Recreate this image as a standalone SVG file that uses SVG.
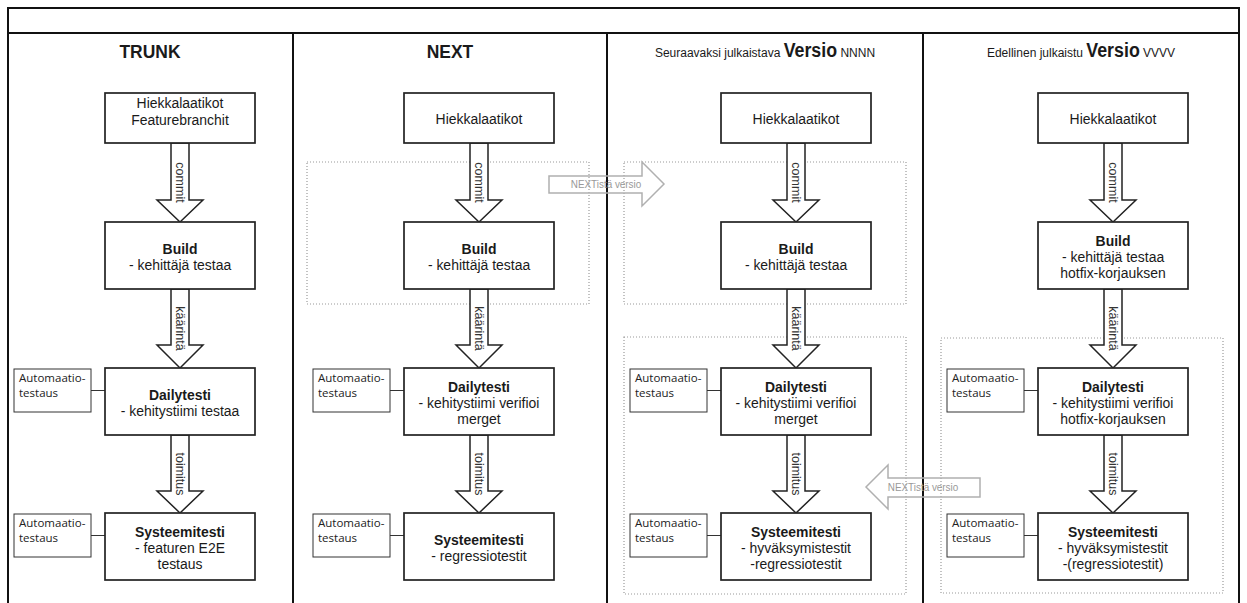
<svg xmlns="http://www.w3.org/2000/svg" width="1247" height="603" viewBox="0 0 1247 603">
<style>
.frame{fill:none;stroke:#111;stroke-width:2}
.box{fill:#fff;stroke:#222;stroke-width:1.7}
.abox{fill:#fff;stroke:#333;stroke-width:1}
.dot{fill:none;stroke:#9a9a9a;stroke-width:1.2;stroke-dasharray:1 2}
.arr{fill:#fff;stroke:#222;stroke-width:1.5}
.garr{fill:none;stroke:#b0b0b0;stroke-width:1.5}
.ln{stroke:#333;stroke-width:1}
text{font-family:"Liberation Sans",Arial,sans-serif;fill:#1a1a1a}
.t,.h,.hs,.glab{transform-box:fill-box;transform-origin:center}
.t{font-size:15.5px;text-anchor:middle;transform:scaleX(0.9)}
.b{font-weight:bold}
.h{font-size:19px;font-weight:bold;text-anchor:middle;transform:scaleX(0.92)}
.hs{font-size:13.5px;text-anchor:middle;transform:scaleX(0.89)}
.hv{font-size:20px;font-weight:bold}
.lab{font-size:12.5px;text-anchor:middle;dominant-baseline:central;fill:#333}
.glab{font-size:11px;text-anchor:middle;dominant-baseline:central;fill:#999;transform:scaleX(0.9)}
.at{font-family:"Open Sans","Liberation Sans",sans-serif;font-size:11.5px;fill:#222}
</style>
<rect width="1247" height="603" fill="#fff"/>
<g id="frame">
<rect class="frame" x="8" y="8" width="1231" height="600"/>
<line class="frame" x1="8" y1="33" x2="1239" y2="33"/>
<line class="frame" x1="293" y1="33" x2="293" y2="608"/>
<line class="frame" x1="607" y1="33" x2="607" y2="608"/>
<line class="frame" x1="923" y1="33" x2="923" y2="608"/>
</g>
<g id="titles">
<text class="h" x="150" y="58">TRUNK</text>
<text class="h" x="450" y="58">NEXT</text>
<text class="hs" x="765" y="57">Seuraavaksi julkaistava <tspan class="hv">Versio</tspan> NNNN</text>
<text class="hs" x="1081" y="57">Edellinen julkaistu <tspan class="hv">Versio</tspan> VVVV</text>
</g>
<g id="groups">
<rect id="grp-next-build" class="dot" x="307" y="162" width="282" height="142"/>
<rect id="grp-versio-build" class="dot" x="624" y="162" width="282" height="142"/>
<rect id="grp-versio-test" class="dot" x="624" y="337" width="282" height="257"/>
<rect id="grp-prev-test" class="dot" x="941" y="338" width="282" height="255"/>
</g>
<g id="connectors">
<path class="arr" d="M171,143 L189,143 L189,200 L203,200 L180,222 L157,200 L171,200 Z"/>
<path class="arr" d="M171,289 L189,289 L189,345 L203,345 L180,368 L157,345 L171,345 Z"/>
<path class="arr" d="M171,435 L189,435 L189,491 L203,491 L180,513 L157,491 L171,491 Z"/>
<path class="arr" d="M470,143 L488,143 L488,200 L502,200 L479,222 L456,200 L470,200 Z"/>
<path class="arr" d="M470,289 L488,289 L488,345 L502,345 L479,368 L456,345 L470,345 Z"/>
<path class="arr" d="M470,435 L488,435 L488,491 L502,491 L479,513 L456,491 L470,491 Z"/>
<path class="arr" d="M787,143 L805,143 L805,200 L819,200 L796,222 L773,200 L787,200 Z"/>
<path class="arr" d="M787,289 L805,289 L805,345 L819,345 L796,368 L773,345 L787,345 Z"/>
<path class="arr" d="M787,435 L805,435 L805,491 L819,491 L796,513 L773,491 L787,491 Z"/>
<path class="arr" d="M1104,143 L1122,143 L1122,200 L1136,200 L1113,222 L1090,200 L1104,200 Z"/>
<path class="arr" d="M1104,289 L1122,289 L1122,345 L1136,345 L1113,368 L1090,345 L1104,345 Z"/>
<path class="arr" d="M1104,435 L1122,435 L1122,491 L1136,491 L1113,513 L1090,491 L1104,491 Z"/>
<text class="lab" x="180" y="182.5" transform="rotate(90 180 182.5)">commit</text>
<text class="lab" x="180" y="328.5" transform="rotate(90 180 328.5)">käärintä</text>
<text class="lab" x="180" y="474" transform="rotate(90 180 474)">toimitus</text>
<text class="lab" x="479" y="182.5" transform="rotate(90 479 182.5)">commit</text>
<text class="lab" x="479" y="328.5" transform="rotate(90 479 328.5)">käärintä</text>
<text class="lab" x="479" y="474" transform="rotate(90 479 474)">toimitus</text>
<text class="lab" x="796" y="182.5" transform="rotate(90 796 182.5)">commit</text>
<text class="lab" x="796" y="328.5" transform="rotate(90 796 328.5)">käärintä</text>
<text class="lab" x="796" y="474" transform="rotate(90 796 474)">toimitus</text>
<text class="lab" x="1113" y="182.5" transform="rotate(90 1113 182.5)">commit</text>
<text class="lab" x="1113" y="328.5" transform="rotate(90 1113 328.5)">käärintä</text>
<text class="lab" x="1113" y="474" transform="rotate(90 1113 474)">toimitus</text>
<path class="garr" d="M549,176 L642,176 L642,162 L664,184 L642,206 L642,193 L549,193 Z"/>
<text class="glab" x="606" y="184.5">NEXTistä versio</text>
<path class="garr" d="M980,478 L888,478 L888,465 L866,487 L888,509 L888,497 L980,497 Z"/>
<text class="glab" x="923" y="487.5">NEXTistä versio</text>
<line class="ln" x1="91" y1="390.5" x2="105" y2="390.5"/>
<line class="ln" x1="91" y1="535.5" x2="105" y2="535.5"/>
<line class="ln" x1="390" y1="390.5" x2="404" y2="390.5"/>
<line class="ln" x1="390" y1="535.5" x2="404" y2="535.5"/>
<line class="ln" x1="707" y1="390.5" x2="721" y2="390.5"/>
<line class="ln" x1="707" y1="535.5" x2="721" y2="535.5"/>
<line class="ln" x1="1024" y1="390.5" x2="1038" y2="390.5"/>
<line class="ln" x1="1024" y1="535.5" x2="1038" y2="535.5"/>
</g>
<g id="trunk-sandbox"><rect class="box" x="105" y="93" width="150" height="50"/><text class="t" x="180" y="108">Hiekkalaatikot</text><text class="t" x="180" y="125">Featurebranchit</text></g>
<g id="trunk-build"><rect class="box" x="105" y="222" width="150" height="67"/><text class="t b" x="180" y="254">Build</text><text class="t" x="180" y="270">- kehittäjä testaa</text></g>
<g id="trunk-daily"><rect class="box" x="105" y="368" width="150" height="67"/><text class="t b" x="180" y="400">Dailytesti</text><text class="t" x="180" y="416">- kehitystiimi testaa</text></g>
<g id="trunk-system"><rect class="box" x="105" y="513" width="150" height="67"/><text class="t b" x="180" y="537">Systeemitesti</text><text class="t" x="180" y="553">- featuren E2E</text><text class="t" x="180" y="569">testaus</text></g>
<g id="trunk-auto1"><rect class="abox" x="14" y="369" width="77" height="43"/><text class="at" x="19" y="382">Automaatio-</text><text class="at" x="19" y="397">testaus</text></g>
<g id="trunk-auto2"><rect class="abox" x="14" y="514" width="77" height="43"/><text class="at" x="19" y="527">Automaatio-</text><text class="at" x="19" y="542">testaus</text></g>

<g id="next-sandbox"><rect class="box" x="404" y="93" width="150" height="50"/><text class="t" x="479" y="124">Hiekkalaatikot</text></g>
<g id="next-build"><rect class="box" x="404" y="222" width="150" height="67"/><text class="t b" x="479" y="254">Build</text><text class="t" x="479" y="270">- kehittäjä testaa</text></g>
<g id="next-daily"><rect class="box" x="404" y="368" width="150" height="67"/><text class="t b" x="479" y="392">Dailytesti</text><text class="t" x="479" y="408">- kehitystiimi verifioi</text><text class="t" x="479" y="424">merget</text></g>
<g id="next-system"><rect class="box" x="404" y="513" width="150" height="67"/><text class="t b" x="479" y="545">Systeemitesti</text><text class="t" x="479" y="561">- regressiotestit</text></g>
<g id="next-auto1"><rect class="abox" x="313" y="369" width="77" height="43"/><text class="at" x="318" y="382">Automaatio-</text><text class="at" x="318" y="397">testaus</text></g>
<g id="next-auto2"><rect class="abox" x="313" y="514" width="77" height="43"/><text class="at" x="318" y="527">Automaatio-</text><text class="at" x="318" y="542">testaus</text></g>

<g id="versio-sandbox"><rect class="box" x="721" y="93" width="150" height="50"/><text class="t" x="796" y="124">Hiekkalaatikot</text></g>
<g id="versio-build"><rect class="box" x="721" y="222" width="150" height="67"/><text class="t b" x="796" y="254">Build</text><text class="t" x="796" y="270">- kehittäjä testaa</text></g>
<g id="versio-daily"><rect class="box" x="721" y="368" width="150" height="67"/><text class="t b" x="796" y="392">Dailytesti</text><text class="t" x="796" y="408">- kehitystiimi verifioi</text><text class="t" x="796" y="424">merget</text></g>
<g id="versio-system"><rect class="box" x="721" y="513" width="150" height="67"/><text class="t b" x="796" y="537">Systeemitesti</text><text class="t" x="796" y="553">- hyväksymistestit</text><text class="t" x="796" y="569">-regressiotestit</text></g>
<g id="versio-auto1"><rect class="abox" x="630" y="369" width="77" height="43"/><text class="at" x="635" y="382">Automaatio-</text><text class="at" x="635" y="397">testaus</text></g>
<g id="versio-auto2"><rect class="abox" x="630" y="514" width="77" height="43"/><text class="at" x="635" y="527">Automaatio-</text><text class="at" x="635" y="542">testaus</text></g>

<g id="prev-sandbox"><rect class="box" x="1038" y="93" width="150" height="50"/><text class="t" x="1113" y="124">Hiekkalaatikot</text></g>
<g id="prev-build"><rect class="box" x="1038" y="222" width="150" height="67"/><text class="t b" x="1113" y="246">Build</text><text class="t" x="1113" y="262">- kehittäjä testaa</text><text class="t" x="1113" y="278">hotfix-korjauksen</text></g>
<g id="prev-daily"><rect class="box" x="1038" y="368" width="150" height="67"/><text class="t b" x="1113" y="392">Dailytesti</text><text class="t" x="1113" y="408">- kehitystiimi verifioi</text><text class="t" x="1113" y="424">hotfix-korjauksen</text></g>
<g id="prev-system"><rect class="box" x="1038" y="513" width="150" height="67"/><text class="t b" x="1113" y="537">Systeemitesti</text><text class="t" x="1113" y="553">- hyväksymistestit</text><text class="t" x="1113" y="569">-(regressiotestit)</text></g>
<g id="prev-auto1"><rect class="abox" x="947" y="369" width="77" height="43"/><text class="at" x="952" y="382">Automaatio-</text><text class="at" x="952" y="397">testaus</text></g>
<g id="prev-auto2"><rect class="abox" x="947" y="514" width="77" height="43"/><text class="at" x="952" y="527">Automaatio-</text><text class="at" x="952" y="542">testaus</text></g>
</svg>
